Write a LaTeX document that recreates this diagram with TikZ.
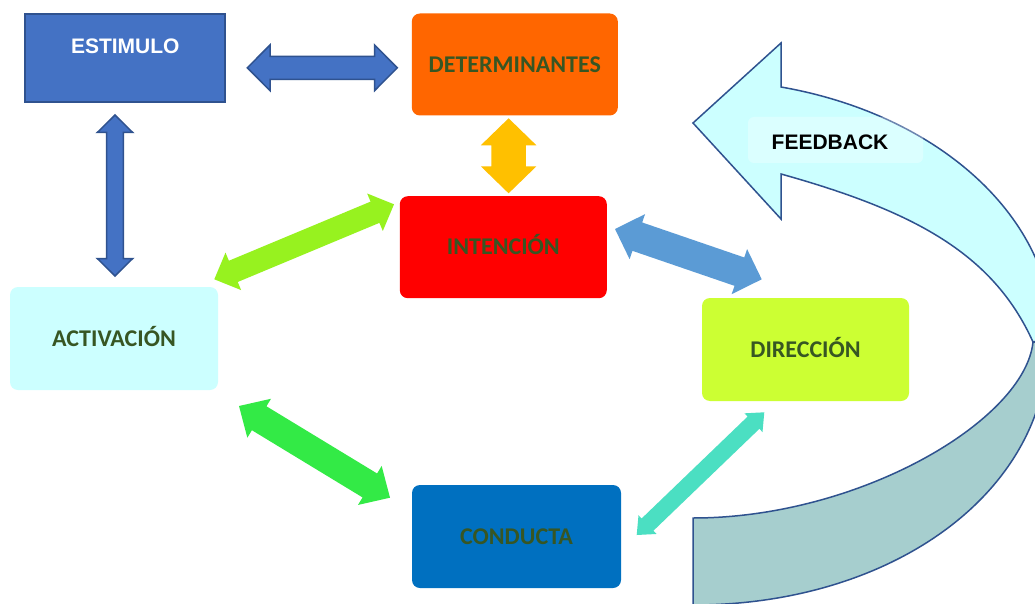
\documentclass[tikz,border=0pt]{standalone}
\usepackage{fontspec}
\newfontfamily\carlito{Carlito}
\newfontfamily\arialf{Liberation Sans}
\usetikzlibrary{calc}
\definecolor{estfill}{HTML}{4472C4}
\definecolor{estdraw}{HTML}{2F528F}
\definecolor{detfill}{HTML}{FF6600}
\definecolor{intfill}{HTML}{FF0000}
\definecolor{actfill}{HTML}{CCFFFF}
\definecolor{dirfill}{HTML}{CCFF33}
\definecolor{confill}{HTML}{0070C0}
\definecolor{txtgreen}{HTML}{375623}
\definecolor{arrGold}{HTML}{FFC000}
\definecolor{arrLime}{HTML}{97F21F}
\definecolor{arrGreen}{HTML}{33EA46}
\definecolor{arrBlue}{HTML}{5B9BD5}
\definecolor{arrTurq}{HTML}{4BDFC2}
\definecolor{fbCyan}{HTML}{CCFFFF}
\definecolor{fbTeal}{HTML}{A6CECE}
% #1 from, #2 to, #3 shaft half width, #4 head half width, #5 head length, #6 style
\newcommand\dblarrow[6]{%
  \coordinate (ha) at ($(#1)!#5!(#2)$);
  \coordinate (hb) at ($(#2)!#5!(#1)$);
  \path[#6] (#1) -- ($(ha)!#4!90:(#2)$) -- ($(ha)!#3!90:(#2)$)
    -- ($(hb)!#3!-90:(#1)$) -- ($(hb)!#4!-90:(#1)$) -- (#2)
    -- ($(hb)!#4!90:(#1)$) -- ($(hb)!#3!90:(#1)$)
    -- ($(ha)!#3!-90:(#2)$) -- ($(ha)!#4!-90:(#2)$) -- cycle;
}
\tikzset{
  box/.style={rectangle, rounded corners=8pt, minimum width=207pt, minimum height=102pt,
    inner sep=0pt, font=\carlito\bfseries\fontsize{24}{24}\selectfont, text=txtgreen,
    text height=15.5pt, text depth=0pt},
  bigarrow/.style={draw=estdraw, line width=1.5pt, line join=miter},
  bluearrow/.style={fill=estfill, draw=estdraw, line width=1.5pt, line join=miter},
}
\begin{document}
\begin{tikzpicture}[x=1pt, y=-1pt]
\useasboundingbox (0,0) rectangle (1035,604);
\clip (0,0) rectangle (1035,604);
\fill[white] (0,0) rectangle (1035,604);

% feedback curved arrow
\path[bigarrow, fill=fbTeal]
  (1033,342) .. controls (1025,420) and (860,518) .. (693,518)
  -- (693,605) .. controls (893,605) and (1048,492) .. (1048,342)
  -- cycle;
\path[bigarrow, fill=fbCyan]
  (693,123) -- (781,43) -- (781,87)
  .. controls (941,115) and (1053,219) .. (1053,338)
  -- (1033,342)
  .. controls (992.5,252) and (911,210.4) .. (781,174)
  -- (781,219) -- cycle;
\node[fill=white, fill opacity=0.3, rounded corners=6pt, minimum width=175pt, minimum height=46pt] (fbbox) at (835.5,140) {};
\node[font=\arialf\bfseries\fontsize{21}{21}\selectfont, text height=15pt, text depth=0pt, inner sep=0pt] (fb) at (830,142.5) {FEEDBACK};

% boxes
\node[rectangle, draw=estdraw, line width=2pt, fill=estfill, minimum width=200pt, minimum height=88pt,
  inner sep=0pt, text=white, font=\arialf\bfseries\fontsize{21}{21}\selectfont,
  text height=15pt, text depth=25pt] (est) at (125.3,58.3) {ESTIMULO};
\node[box, fill=detfill, minimum width=206pt] (det) at (514.8,64.5) {DETERMINANTES};
\node[box, fill=intfill] (int) at (503.3,247.2) {INTENCIÓN};
\node[box, fill=actfill, minimum height=103pt, minimum width=208pt] (act) at (114,338.5) {ACTIVACIÓN};
\node[box, fill=dirfill, minimum height=103pt] (dir) at (805.5,349.5) {DIRECCIÓN};
\node[box, fill=confill, minimum height=103pt, minimum width=209pt] (con) at (516.5,536.5) {CONDUCTA};

% double arrows
\coordinate (a1) at (247.3,67.8); \coordinate (a2) at (397.3,67.8);
\dblarrow{a1}{a2}{11.5pt}{22.8pt}{22.7pt}{bluearrow}
\coordinate (b1) at (115,115); \coordinate (b2) at (115,276);
\dblarrow{b1}{b2}{8.3pt}{17.7pt}{17.5pt}{bluearrow}
\coordinate (c1) at (508.6,118.3); \coordinate (c2) at (508.6,193.3);
\dblarrow{c1}{c2}{17.2pt}{27.8pt}{27pt}{fill=arrGold}
\coordinate (d1) at (214.3,279.3); \coordinate (d2) at (394,204.3);
\dblarrow{d1}{d2}{11.5pt}{20.3pt}{20.6pt}{fill=arrLime}
\coordinate (e1) at (239,406); \coordinate (e2) at (390,497.7);
\dblarrow{e1}{e2}{14pt}{22.8pt}{23.6pt}{fill=arrGreen}
\coordinate (f1) at (615,229); \coordinate (f2) at (761.7,279.3);
\dblarrow{f1}{f2}{15pt}{23.8pt}{23.6pt}{fill=arrBlue}
\coordinate (g1) at (764.3,412.3); \coordinate (g2) at (636.7,535);
\dblarrow{g1}{g2}{8.5pt}{13pt}{15pt}{fill=arrTurq}
\end{tikzpicture}
\end{document}
